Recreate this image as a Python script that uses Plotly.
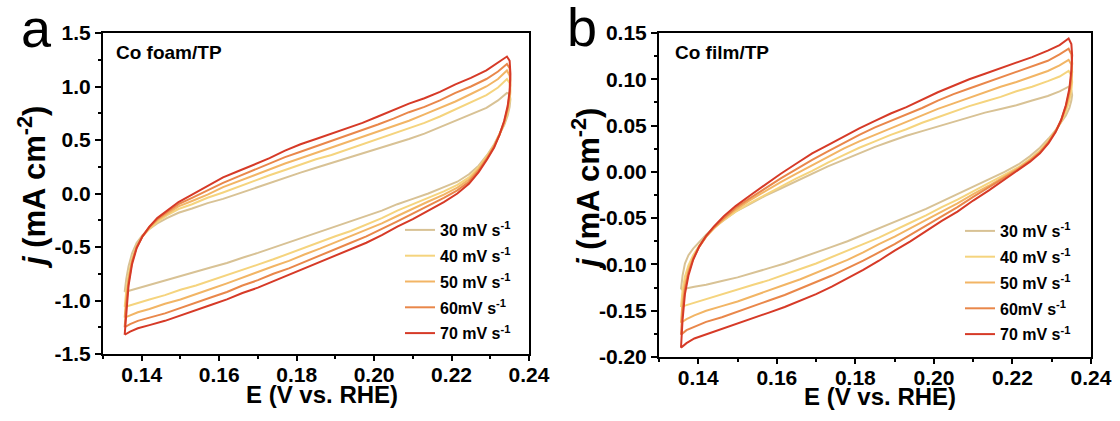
import plotly.graph_objects as go

# ---------------------------------------------------------------------------
# Cyclic voltammograms in the non-Faradaic region (double-layer charging)
# Potential grids of the anodic (forward) and cathodic (reverse) sweeps, V vs. RHE
# ---------------------------------------------------------------------------
E_FWD = [0.1356, 0.1360, 0.1366, 0.1375, 0.1387, 0.1402, 0.1420, 0.1440, 0.1465,
         0.1495, 0.1530, 0.1570, 0.1610, 0.1650, 0.1690, 0.1730, 0.1770, 0.1810,
         0.1850, 0.1890, 0.1930, 0.1970, 0.2010, 0.2050, 0.2090, 0.2130, 0.2170,
         0.2210, 0.2250, 0.2290, 0.2320, 0.2343]
E_REV = [0.2350, 0.2352, 0.2350, 0.2345, 0.2336, 0.2324, 0.2310, 0.2292, 0.2270,
         0.2245, 0.2215, 0.2180, 0.2140, 0.2100, 0.2060, 0.2020, 0.1980, 0.1940,
         0.1900, 0.1860, 0.1820, 0.1780, 0.1740, 0.1700, 0.1660, 0.1620, 0.1580,
         0.1540, 0.1500, 0.1460, 0.1420, 0.1390, 0.1370, 0.1356]

SCAN_LABELS = ["30 mV s<sup>-1</sup>", "40 mV s<sup>-1</sup>", "50 mV s<sup>-1</sup>",
               "60mV s<sup>-1</sup>", "70 mV s<sup>-1</sup>"]
SCAN_COLORS = ["#D8C295", "#F5D47E", "#F2B565", "#E9874A", "#D63A27"]

# Co foam/TP, current density j (mA cm^-2)
FOAM_30_FWD = [-0.92, -0.80, -0.68, -0.56, -0.46, -0.39, -0.33, -0.28, -0.23, -0.18,
               -0.14, -0.09, -0.05, 0.00, 0.05, 0.10, 0.15, 0.195, 0.24, 0.285, 0.33,
               0.37, 0.42, 0.465, 0.51, 0.56, 0.62, 0.68, 0.74, 0.80, 0.87, 0.94]
FOAM_30_REV = [0.93, 0.88, 0.81, 0.73, 0.64, 0.55, 0.46, 0.36, 0.26, 0.18, 0.11, 0.06,
               0.00, -0.05, -0.10, -0.16, -0.21, -0.26, -0.31, -0.36, -0.41, -0.46,
               -0.51, -0.555, -0.60, -0.65, -0.69, -0.73, -0.77, -0.81, -0.85, -0.88,
               -0.90, -0.92]
FOAM_40_FWD = [-1.06, -0.91, -0.76, -0.61, -0.49, -0.40, -0.33, -0.265, -0.205, -0.145,
               -0.10, -0.04, 0.01, 0.065, 0.12, 0.17, 0.22, 0.27, 0.32, 0.36, 0.41,
               0.455, 0.505, 0.555, 0.605, 0.66, 0.72, 0.785, 0.85, 0.92, 0.99, 1.07]
FOAM_40_REV = [1.03, 0.95, 0.86, 0.76, 0.65, 0.55, 0.45, 0.35, 0.245, 0.15, 0.08, 0.02,
               -0.04, -0.10, -0.16, -0.23, -0.29, -0.35, -0.40, -0.455, -0.51, -0.56,
               -0.615, -0.665, -0.715, -0.765, -0.81, -0.86, -0.90, -0.95, -0.99,
               -1.02, -1.04, -1.06]
FOAM_50_FWD = [-1.16, -0.98, -0.80, -0.63, -0.50, -0.40, -0.32, -0.25, -0.19, -0.12,
               -0.07, -0.01, 0.06, 0.115, 0.17, 0.23, 0.28, 0.33, 0.38, 0.43, 0.475,
               0.525, 0.575, 0.63, 0.68, 0.74, 0.80, 0.86, 0.93, 1.00, 1.07, 1.15]
FOAM_50_REV = [1.10, 1.01, 0.90, 0.78, 0.66, 0.55, 0.445, 0.34, 0.23, 0.13, 0.055,
               -0.01, -0.075, -0.14, -0.21, -0.28, -0.34, -0.40, -0.46, -0.515, -0.57,
               -0.63, -0.68, -0.735, -0.79, -0.84, -0.89, -0.94, -0.99, -1.03, -1.08,
               -1.11, -1.14, -1.16]
FOAM_60_FWD = [-1.25, -1.04, -0.83, -0.64, -0.50, -0.40, -0.31, -0.24, -0.175, -0.10,
               -0.04, 0.03, 0.10, 0.16, 0.22, 0.28, 0.34, 0.39, 0.44, 0.49, 0.54, 0.59,
               0.645, 0.70, 0.76, 0.81, 0.87, 0.94, 1.00, 1.07, 1.14, 1.21]
FOAM_60_REV = [1.17, 1.06, 0.93, 0.80, 0.67, 0.55, 0.44, 0.33, 0.215, 0.11, 0.03, -0.04,
               -0.115, -0.19, -0.26, -0.33, -0.40, -0.46, -0.52, -0.58, -0.64, -0.70,
               -0.75, -0.81, -0.86, -0.92, -0.97, -1.02, -1.07, -1.12, -1.16, -1.19,
               -1.22, -1.25]
FOAM_70_FWD = [-1.32, -1.10, -0.86, -0.66, -0.51, -0.40, -0.31, -0.23, -0.16, -0.08,
               -0.01, 0.07, 0.15, 0.21, 0.27, 0.33, 0.40, 0.46, 0.51, 0.56, 0.61, 0.66,
               0.72, 0.78, 0.84, 0.89, 0.95, 1.02, 1.08, 1.15, 1.22, 1.28]
FOAM_70_REV = [1.24, 1.12, 0.96, 0.82, 0.68, 0.55, 0.43, 0.32, 0.20, 0.09, 0.00, -0.08,
               -0.16, -0.24, -0.31, -0.39, -0.46, -0.52, -0.58, -0.64, -0.70, -0.76,
               -0.82, -0.88, -0.93, -0.99, -1.04, -1.09, -1.14, -1.19, -1.23, -1.26,
               -1.29, -1.32]

# Co film/TP, current density j (mA cm^-2)
FILM_30_FWD = [-0.127, -0.112, -0.099, -0.090, -0.083, -0.076, -0.068, -0.060, -0.052,
               -0.043, -0.035, -0.026, -0.018, -0.010, -0.002, 0.006, 0.013, 0.020,
               0.027, 0.033, 0.039, 0.044, 0.049, 0.054, 0.059, 0.064, 0.068, 0.072,
               0.077, 0.082, 0.087, 0.092]
FILM_30_REV = [0.088, 0.083, 0.077, 0.069, 0.061, 0.053, 0.045, 0.036, 0.026, 0.017,
               0.008, 0.000, -0.008, -0.016, -0.024, -0.032, -0.040, -0.047, -0.054,
               -0.061, -0.068, -0.075, -0.081, -0.087, -0.093, -0.099, -0.104, -0.109,
               -0.114, -0.118, -0.122, -0.124, -0.126, -0.127]
FILM_40_FWD = [-0.146, -0.128, -0.113, -0.101, -0.090, -0.080, -0.070, -0.061, -0.052,
               -0.043, -0.034, -0.025, -0.016, -0.007, 0.001, 0.010, 0.018, 0.026,
               0.033, 0.040, 0.046, 0.053, 0.059, 0.065, 0.071, 0.076, 0.081, 0.087,
               0.092, 0.098, 0.103, 0.109]
FILM_40_REV = [0.104, 0.097, 0.088, 0.077, 0.065, 0.054, 0.044, 0.034, 0.023, 0.014,
               0.005, -0.003, -0.012, -0.021, -0.030, -0.038, -0.047, -0.055, -0.063,
               -0.071, -0.078, -0.085, -0.092, -0.099, -0.105, -0.111, -0.117, -0.122,
               -0.127, -0.132, -0.137, -0.141, -0.144, -0.146]
FILM_50_FWD = [-0.163, -0.141, -0.122, -0.106, -0.093, -0.081, -0.070, -0.061, -0.051,
               -0.041, -0.031, -0.021, -0.011, -0.002, 0.007, 0.016, 0.025, 0.033,
               0.040, 0.047, 0.054, 0.061, 0.068, 0.074, 0.080, 0.086, 0.092, 0.097,
               0.103, 0.109, 0.115, 0.121]
FILM_50_REV = [0.116, 0.108, 0.097, 0.083, 0.069, 0.055, 0.044, 0.033, 0.022, 0.013,
               0.004, -0.005, -0.015, -0.024, -0.034, -0.043, -0.052, -0.061, -0.070,
               -0.078, -0.087, -0.095, -0.102, -0.109, -0.116, -0.122, -0.128, -0.134,
               -0.140, -0.145, -0.150, -0.155, -0.159, -0.163]
FILM_60_FWD = [-0.176, -0.150, -0.127, -0.109, -0.094, -0.081, -0.070, -0.060, -0.050,
               -0.039, -0.029, -0.018, -0.007, 0.003, 0.013, 0.022, 0.031, 0.040,
               0.048, 0.055, 0.062, 0.069, 0.077, 0.084, 0.090, 0.096, 0.102, 0.108,
               0.114, 0.120, 0.127, 0.133]
FILM_60_REV = [0.127, 0.117, 0.104, 0.087, 0.071, 0.056, 0.044, 0.032, 0.021, 0.012,
               0.003, -0.006, -0.017, -0.027, -0.038, -0.048, -0.058, -0.068, -0.078,
               -0.087, -0.096, -0.104, -0.112, -0.119, -0.126, -0.133, -0.139, -0.145,
               -0.151, -0.157, -0.162, -0.167, -0.171, -0.176]
FILM_70_FWD = [-0.190, -0.160, -0.132, -0.112, -0.095, -0.081, -0.069, -0.059, -0.048,
               -0.037, -0.026, -0.014, -0.002, 0.009, 0.020, 0.029, 0.038, 0.047,
               0.055, 0.063, 0.070, 0.078, 0.086, 0.093, 0.100, 0.106, 0.112, 0.118,
               0.124, 0.131, 0.137, 0.144]
FILM_70_REV = [0.138, 0.126, 0.110, 0.090, 0.072, 0.056, 0.043, 0.031, 0.020, 0.011,
               0.002, -0.008, -0.020, -0.031, -0.043, -0.053, -0.064, -0.075, -0.085,
               -0.096, -0.106, -0.115, -0.124, -0.132, -0.139, -0.146, -0.152, -0.158,
               -0.164, -0.170, -0.176, -0.180, -0.185, -0.190]

FOAM_SWEEPS = [(FOAM_30_FWD, FOAM_30_REV), (FOAM_40_FWD, FOAM_40_REV),
               (FOAM_50_FWD, FOAM_50_REV), (FOAM_60_FWD, FOAM_60_REV),
               (FOAM_70_FWD, FOAM_70_REV)]
FILM_SWEEPS = [(FILM_30_FWD, FILM_30_REV), (FILM_40_FWD, FILM_40_REV),
               (FILM_50_FWD, FILM_50_REV), (FILM_60_FWD, FILM_60_REV),
               (FILM_70_FWD, FILM_70_REV)]

# Axis ticks
E_TICKS = [0.14, 0.16, 0.18, 0.20, 0.22, 0.24]
FOAM_J_TICKS = [-1.5, -1.0, -0.5, 0.0, 0.5, 1.0, 1.5]
FILM_J_TICKS = [-0.20, -0.15, -0.10, -0.05, 0.00, 0.05, 0.10, 0.15]

# ---------------------------------------------------------------------------
W, H = 1120, 421
FONT = "Liberation Sans, Arial, sans-serif"


def px(x):
    return x / W


def py(y):
    return 1 - y / H


fig = go.Figure()

panels = [
    dict(sweeps=FOAM_SWEEPS, xa="x", ya="y", legend="legend"),
    dict(sweeps=FILM_SWEEPS, xa="x2", ya="y2", legend="legend2"),
]
for p in panels:
    for (fwd, rev), label, color in zip(p["sweeps"], SCAN_LABELS, SCAN_COLORS):
        fig.add_trace(go.Scatter(
            x=E_FWD + E_REV, y=fwd + rev, mode="lines", name=label,
            line=dict(color=color, width=2),
            xaxis=p["xa"], yaxis=p["ya"], legend=p["legend"],
            legendgroup=p["legend"] + label,
        ))

tick_font = dict(family=FONT, size=21, color="black", weight="bold")


def x_axis(domain, anchor):
    return dict(
        domain=domain, anchor=anchor, range=[0.13, 0.24],
        tickmode="array", tickvals=E_TICKS, ticktext=[f"{v:.2f}" for v in E_TICKS],
        ticks="outside", ticklen=5, tickwidth=2, tickcolor="black",
        ticklabelstandoff=-4,
        minor=dict(tickmode="linear", tick0=0.13, dtick=0.01, ticks="outside",
                   ticklen=3, tickwidth=1.5, tickcolor="black"),
        showline=True, linewidth=2, linecolor="black", mirror=True,
        showgrid=False, zeroline=False, tickfont=tick_font, automargin=False,
    )


def y_axis(domain, anchor, rng, tickvals, fmt, minor_step):
    return dict(
        domain=domain, anchor=anchor, range=rng,
        tickmode="array", tickvals=tickvals, ticktext=[fmt.format(v) for v in tickvals],
        ticks="outside", ticklen=6, tickwidth=2, tickcolor="black",
        minor=dict(tickmode="linear", tick0=rng[0], dtick=minor_step, ticks="outside",
                   ticklen=3, tickwidth=1.5, tickcolor="black"),
        showline=True, linewidth=2, linecolor="black", mirror=True,
        showgrid=False, zeroline=False, tickfont=tick_font, automargin=False,
    )


legend_font = dict(family=FONT, size=16, color="black", weight="bold")
fig.update_layout(
    width=W, height=H, margin=dict(l=0, r=0, t=0, b=0),
    paper_bgcolor="white", plot_bgcolor="white",
    xaxis=x_axis([px(103), px(529)], "y"),
    yaxis=y_axis([py(354), py(33)], "x", [-1.5, 1.5], FOAM_J_TICKS, "{:.1f}", 0.25),
    xaxis2=x_axis([px(659), px(1091)], "y2"),
    yaxis2=y_axis([py(357), py(33)], "x2", [-0.20, 0.15], FILM_J_TICKS, "{:.2f}", 0.025),
    legend=dict(x=px(400), y=py(213), xanchor="left", yanchor="top",
                bgcolor="rgba(0,0,0,0)", tracegroupgap=2, itemwidth=30,
                font=legend_font),
    legend2=dict(x=px(960), y=py(214), xanchor="left", yanchor="top",
                 bgcolor="rgba(0,0,0,0)", tracegroupgap=2, itemwidth=30,
                 font=legend_font),
    showlegend=True,
)

title_font = dict(family=FONT, size=24, color="black", weight="bold")
ytitle_font = dict(family=FONT, size=31, color="black", weight="bold")
annotations = [
    # panel letters
    dict(text="a", x=px(36), y=py(28), font=dict(family=FONT, size=54, color="black")),
    dict(text="b", x=px(582), y=py(27), font=dict(family=FONT, size=54, color="black")),
    # sample names
    dict(text="Co foam/TP", x=px(114), y=py(53), xanchor="left",
         font=dict(family=FONT, size=19, color="black", weight="bold")),
    dict(text="Co film/TP", x=px(673), y=py(53), xanchor="left",
         font=dict(family=FONT, size=19, color="black", weight="bold")),
    # axis titles
    dict(text="E (V vs. RHE)", x=px(322), y=py(394), font=title_font),
    dict(text="E (V vs. RHE)", x=px(880), y=py(396), font=title_font),
    dict(text="<i>j</i> (mA cm<sup>-2</sup>)", x=px(32), y=py(188), textangle=-90,
         font=ytitle_font),
    dict(text="<i>j</i> (mA cm<sup>-2</sup>)", x=px(586), y=py(190), textangle=-90,
         font=ytitle_font),
]
for a in annotations:
    a.setdefault("xanchor", "center")
    a.setdefault("yanchor", "middle")
    fig.add_annotation(xref="paper", yref="paper", showarrow=False, **a)

fig.write_html("out.html")
